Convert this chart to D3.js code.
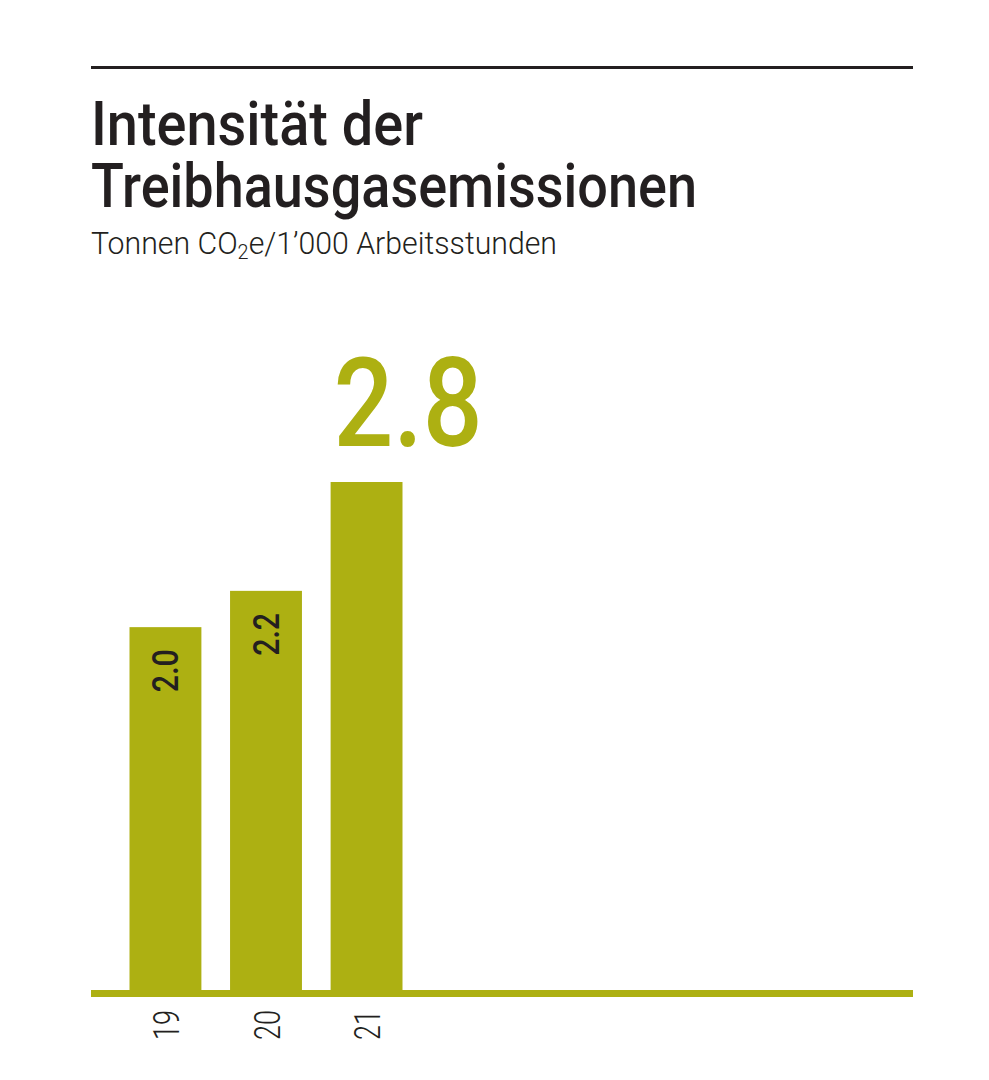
<!DOCTYPE html>
<html><head><meta charset="utf-8">
<script src="https://cdn.jsdelivr.net/npm/d3@7"></script>
<style>html,body{margin:0;padding:0;background:#fff}</style>
</head><body>
<script>
const categories = ["19", "20", "21"];
const values = [2.0, 2.2, 2.8];
const valueLabels = ["2.0", "2.2", "2.8"];
const titleLines = ["Intensität der", "Treibhausgasemissionen"];

const W = 989, H = 1080;
const green = "#adb012", ink = "#231f20";
const svg = d3.select("body").append("svg").attr("width", W).attr("height", H);

const x = d3.scaleBand().domain(categories).range([129.5, 402.5]).paddingInner(0.285).paddingOuter(0);
const y = d3.scaleLinear().domain([0, 2.8]).range([990, 482]);

// top rule
svg.append("rect").attr("x", 91).attr("y", 66).attr("width", 822).attr("height", 3).attr("fill", ink);

// title
const tw = [332, 606];
svg.selectAll("text.title").data(titleLines).join("text").attr("class", "title")
  .attr("x", 91).attr("y", (d, i) => 144.5 + i * 62)
  .attr("font-family", "Roboto").attr("font-weight", 500).attr("font-size", 62)
  .attr("fill", ink).attr("textLength", (d, i) => tw[i]).attr("lengthAdjust", "spacingAndGlyphs")
  .text(d => d);

// subtitle
const sub = svg.append("text").attr("x", 91).attr("y", 253.5)
  .attr("font-family", "Roboto").attr("font-weight", 300).attr("font-size", 32).attr("fill", ink)
  .attr("textLength", 466).attr("lengthAdjust", "spacingAndGlyphs");
sub.append("tspan").text("Tonnen CO");
sub.append("tspan").attr("font-size", 21).attr("dy", 5).text("2");
sub.append("tspan").attr("dy", -5).text("e/1’000 Arbeitsstunden");

// bars
svg.selectAll("rect.bar").data(values).join("rect").attr("class", "bar")
  .attr("x", (d, i) => x(categories[i])).attr("width", x.bandwidth())
  .attr("y", d => y(d)).attr("height", d => y(0) - y(d)).attr("fill", green);

// baseline
svg.append("rect").attr("x", 91).attr("y", y(0)).attr("width", 822).attr("height", 7).attr("fill", green);

// value labels inside first bars
const inner = values.map((v, i) => ({v, i})).filter(d => d.i < values.length - 1);
svg.selectAll("text.val").data(inner).join("text").attr("class", "val")
  .attr("transform", d => `translate(${x(categories[d.i]) + x.bandwidth() / 2 + 13},${y(d.v) + 22}) rotate(-90)`)
  .attr("text-anchor", "end")
  .attr("font-family", "Roboto").attr("font-weight", 500).attr("font-size", 37).attr("fill", ink)
  .attr("textLength", 43).attr("lengthAdjust", "spacingAndGlyphs")
  .text(d => valueLabels[d.i]);

// big highlight label
const last = values.length - 1;
svg.append("text").attr("x", x(categories[last]) + 3).attr("y", y(values[last]) - 36)
  .attr("font-family", "Roboto").attr("font-weight", 500).attr("font-size", 125).attr("fill", green)
  .attr("textLength", 149).attr("lengthAdjust", "spacingAndGlyphs")
  .text(valueLabels[last]);

// x labels
svg.selectAll("text.cat").data(categories).join("text").attr("class", "cat")
  .attr("transform", d => `translate(${x(d) + x.bandwidth() / 2 + 13.5},${1010}) rotate(-90)`)
  .attr("text-anchor", "end")
  .attr("font-family", "Roboto").attr("font-weight", 300).attr("font-size", 36).attr("fill", ink)
  .attr("textLength", 30).attr("lengthAdjust", "spacingAndGlyphs")
  .text(d => d);
</script>
</body></html>
